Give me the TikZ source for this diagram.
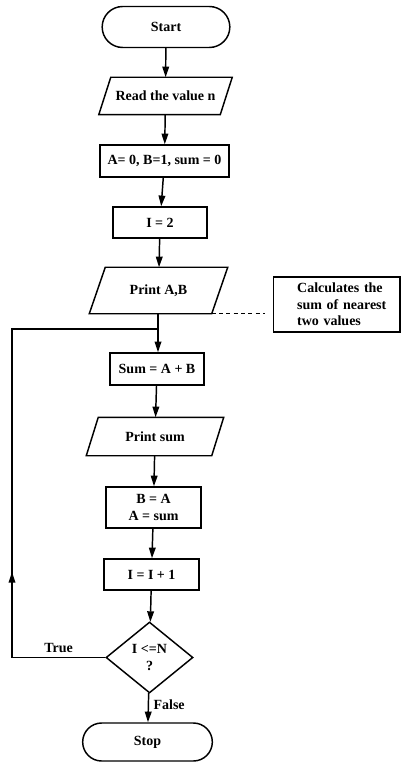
\documentclass[tikz,border=0pt]{standalone}
\usepackage{fontspec}
\setmainfont{Liberation Serif}
\usetikzlibrary{shapes.geometric,shapes.misc,arrows.meta}

\tikzset{
  base/.style={draw=black, line width=1.1pt, inner sep=2pt, align=center,
    font=\fontsize{10.5}{12.5}\selectfont\bfseries},
  term/.style={base, rounded rectangle},
  io/.style={base, draw=none, rectangle},
  proc/.style={base, rectangle},
  cond/.style={base, diamond, inner sep=0pt},
  outline/.style={draw=black, line width=1.1pt, line join=miter},
  note/.style={draw=black, line width=1pt, rectangle, align=left,
    font=\fontsize{10.5}{12.5}\selectfont\bfseries, inner xsep=0pt, text width=95pt},
  flow/.style={line width=1.1pt, -{Triangle[length=8pt,width=5pt]}},
  link/.style={line width=1.1pt},
  lbl/.style={font=\fontsize{10.5}{12}\selectfont\bfseries}
}

% slanted input/output frame around a named node; #2 is half the slant
\newcommand\ioframe[2]{%
  \draw[outline] ([xshift=-#2]#1.south west) -- ([xshift=#2]#1.north west)
    -- ([xshift=#2]#1.north east) -- ([xshift=-#2]#1.south east) -- cycle;}
% indent for the lines of the side note
\newcommand\noteindent{\hspace*{18pt}}

\begin{document}
\begin{tikzpicture}[x=0.75pt,y=-0.75pt]
  \useasboundingbox (0,0) rectangle (401,762);

  % main column
  \node[term, minimum width=99.75pt, minimum height=30.75pt] (start) at (166,27) {Start};
  \node[io, minimum width=90pt, minimum height=27pt] (read) at (165.5,96) {Read the value n};
  \ioframe{read}{4.5pt}
  \node[proc, minimum width=96.75pt, minimum height=24pt] (init) at (164.5,161) {A= 0, B=1, sum = 0};
  \node[proc, minimum width=70.5pt, minimum height=23.25pt] (seti) at (160,222.5) {I = 2};
  \node[io, minimum width=90.75pt, minimum height=33.75pt] (pab) at (158.5,290.5) {Print A,B};
  \ioframe{pab}{6pt}
  \node[proc, minimum width=70.5pt, minimum height=24pt] (sum) at (157,369) {Sum = A + B};
  \node[io, minimum width=93pt, minimum height=27.75pt] (psum) at (155,436.5) {Print sum};
  \ioframe{psum}{4.5pt}
  \node[proc, minimum width=71.25pt, minimum height=30.75pt] (swap) at (153.5,507.5) {B = A\\A = sum};
  \node[proc, minimum width=71.25pt, minimum height=23.25pt] (inc) at (151.5,574.5) {I = I + 1};
  \node[cond, minimum width=65.25pt, minimum height=53.25pt] (test) at (149.5,657.5) {I <=N\\?};
  \node[term, minimum width=101.25pt, minimum height=28.5pt] (stop) at (147.5,742) {Stop};

  % side annotation
  \node[note, minimum height=41.25pt] (cmt) at (336.5,304.5)
    {\noteindent Calculates the\\\noteindent sum of nearest\\\noteindent two values};

  % loop-back points
  \coordinate (join) at (158,329);
  \coordinate (lb) at (12,657.5);
  \coordinate (lt) at (12,329);
  \coordinate (lmid) at (12,572);

  % connectors
  \draw[flow] (start) -- (read);
  \draw[flow] (read) -- (init);
  \draw[flow] (init) -- (seti);
  \draw[flow] (seti) -- (pab);
  \draw[link] (pab.south -| join) -- (join);
  \draw[flow] (join) -- (sum.north -| join);
  \draw[flow] (sum) -- (psum);
  \draw[flow] (psum) -- (swap);
  \draw[flow] (swap) -- (inc);
  \draw[flow] (inc) -- (test);
  \draw[flow] (test) -- node[lbl, right, pos=0.4] {False} (stop);

  % true branch back to the top of the loop
  \draw[link] (test.west) -- node[lbl, above, pos=0.5] {True} (lb) -- (lt) -- (join);
  \draw[flow] (lb) -- (lmid);

  % dashed link to the annotation
  \draw[line width=0.9pt, dash pattern=on 3pt off 2.5pt]
    ([xshift=-6pt]pab.south east) -- ([xshift=-6pt]pab.south east -| cmt.west);
\end{tikzpicture}
\end{document}
